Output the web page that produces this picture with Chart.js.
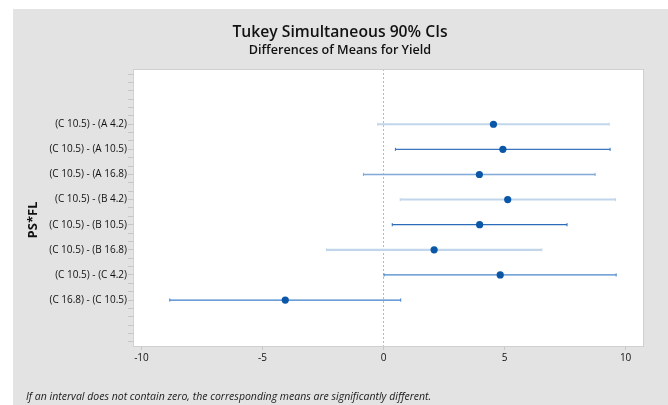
<!DOCTYPE html>
<html>
<head>
<meta charset="utf-8">
<script src="https://cdn.jsdelivr.net/npm/chart.js@4/dist/chart.umd.min.js"></script>
<style>
  html, body { margin: 0; padding: 0; background: #ffffff; }
  #wrap { position: absolute; left: 13px; top: 9px; width: 655px; height: 396px; background: #e3e3e3; }
  canvas { display: block; }
</style>
</head>
<body>
<div id="wrap"><canvas id="chart" width="655" height="396"></canvas></div>
<script>
// Pairwise comparisons (top to bottom)
const comparisons = [
  '(C 10.5) - (A 4.2)',
  '(C 10.5) - (A 10.5)',
  '(C 10.5) - (A 16.8)',
  '(C 10.5) - (B 4.2)',
  '(C 10.5) - (B 10.5)',
  '(C 10.5) - (B 16.8)',
  '(C 10.5) - (C 4.2)',
  '(C 16.8) - (C 10.5)'
];
// Difference of means and the 90% simultaneous interval bounds
const diffMeans   = [4.54, 4.93, 3.96, 5.13, 3.97, 2.09, 4.82, -4.06];
const lowerBounds = [-0.24, 0.49, -0.83, 0.69, 0.36, -2.36, 0.02, -8.83];
const upperBounds = [9.32, 9.36, 8.74, 9.58, 7.58, 6.54, 9.61, 0.71];
const xTickValues = [-10, -5, 0, 5, 10];

const chartTitle = 'Tukey Simultaneous 90% CIs';
const chartSubtitle = 'Differences of Means for Yield';
const yAxisTitle = 'PS*FL';
const footnote = 'If an interval does not contain zero, the corresponding means are significantly different.';

// Axis extents
const X_MIN = -10.35, X_MAX = 10.76;
const Y_MIN = -1.2, Y_MAX = 9.83;

// Line look for each interval row
const intervalStyles = [
  { color: '#c2d6eb', width: 2 },
  { color: '#3a76bf', width: 1.2 },
  { color: '#80a8d9', width: 1.5 },
  { color: '#c2d6eb', width: 2 },
  { color: '#2b6bb7', width: 1.2 },
  { color: '#c2d6eb', width: 2.2 },
  { color: '#4a86c8', width: 1.2 },
  { color: '#3f7fca', width: 1.2 }
];

const datasets = [];

// Reference line at zero
datasets.push({
  type: 'line',
  data: [{ x: 0, y: Y_MIN }, { x: 0, y: Y_MAX }],
  borderColor: '#86d3b3',
  borderWidth: 1,
  borderDash: [2, 2],
  pointRadius: 0,
  order: 3
});

// Interval lines with small end caps
comparisons.forEach((name, i) => {
  const st = intervalStyles[i];
  datasets.push({
    type: 'line',
    label: name,
    data: [{ x: lowerBounds[i], y: i + 1 }, { x: upperBounds[i], y: i + 1 }],
    borderColor: st.color,
    borderWidth: st.width,
    pointStyle: 'line',
    rotation: 90,
    pointRadius: 1.6,
    pointBorderWidth: 1,
    pointBorderColor: st.color,
    order: 2
  });
});

// Mean differences
datasets.push({
  type: 'scatter',
  data: diffMeans.map((v, i) => ({ x: v, y: i + 1 })),
  backgroundColor: '#0a56a7',
  borderWidth: 0,
  pointRadius: 3.6,
  order: 1
});

const frameAndText = {
  id: 'frameAndText',
  beforeDraw(chart) {
    const { ctx, chartArea: a } = chart;
    ctx.save();
    ctx.fillStyle = '#ffffff';
    ctx.fillRect(a.left, a.top, a.right - a.left, a.bottom - a.top);
    ctx.restore();
  },
  afterDraw(chart) {
    const { ctx, chartArea: a } = chart;
    ctx.save();
    ctx.strokeStyle = '#d0d0d0';
    ctx.lineWidth = 1;
    ctx.strokeRect(a.left + 0.5, a.top + 0.5, a.right - a.left - 1, a.bottom - a.top);

    ctx.fillStyle = '#111111';
    ctx.textAlign = 'center';
    ctx.textBaseline = 'middle';
    ctx.font = '600 15.7px "Open Sans"';
    ctx.fillText(chartTitle, 327, 23.5);
    ctx.font = '600 12.6px "Open Sans"';
    ctx.fillText(chartSubtitle, 327, 41.5);

    ctx.save();
    ctx.translate(20, 211);
    ctx.rotate(-Math.PI / 2);
    ctx.font = 'bold 13px "Open Sans"';
    ctx.fillText(yAxisTitle, 0, 0);
    ctx.restore();

    ctx.textAlign = 'left';
    ctx.font = 'italic 10.5px "Open Sans"';
    ctx.fillStyle = '#1a1a1a';
    ctx.fillText(footnote, 13, 388);
    ctx.restore();
  }
};

new Chart(document.getElementById('chart'), {
  data: { datasets },
  options: {
    responsive: false,
    animation: false,
    layout: { padding: { top: 60, right: 24, bottom: 29, left: 0 } },
    plugins: { legend: { display: false }, tooltip: { enabled: false }, title: { display: false } },
    scales: {
      x: {
        type: 'linear',
        min: X_MIN,
        max: X_MAX,
        afterBuildTicks(scale) { scale.ticks = xTickValues.map(v => ({ value: v })); },
        afterFit(scale) { scale.height = 30; },
        grid: { drawOnChartArea: false, drawTicks: true, tickLength: 4, color: '#c6c6c6' },
        border: { display: false },
        ticks: {
          autoSkip: false,
          maxRotation: 0,
          padding: 2,
          color: '#111111',
          font: { family: '"Open Sans"', size: 10, weight: '500' },
          callback: v => String(v)
        }
      },
      y: {
        type: 'linear',
        reverse: true,
        min: Y_MIN,
        max: Y_MAX,
        afterBuildTicks(scale) {
          const t = [];
          for (let k = 0; k <= 32; k++) t.push({ value: -1 + k / 3 });
          scale.ticks = t;
        },
        afterFit(scale) { scale.width = 120; },
        grid: { drawOnChartArea: false, drawTicks: true, tickLength: 5, color: '#c6c6c6' },
        border: { display: false },
        ticks: {
          autoSkip: false,
          padding: 1,
          color: '#111111',
          font: { family: '"Open Sans"', size: 10, weight: '500' },
          callback(v) {
            const r = Math.round(v);
            if (Math.abs(v - r) < 1e-6 && r >= 1 && r <= comparisons.length) return comparisons[r - 1];
            return '';
          }
        }
      }
    }
  },
  plugins: [frameAndText]
});
</script>
</body>
</html>
